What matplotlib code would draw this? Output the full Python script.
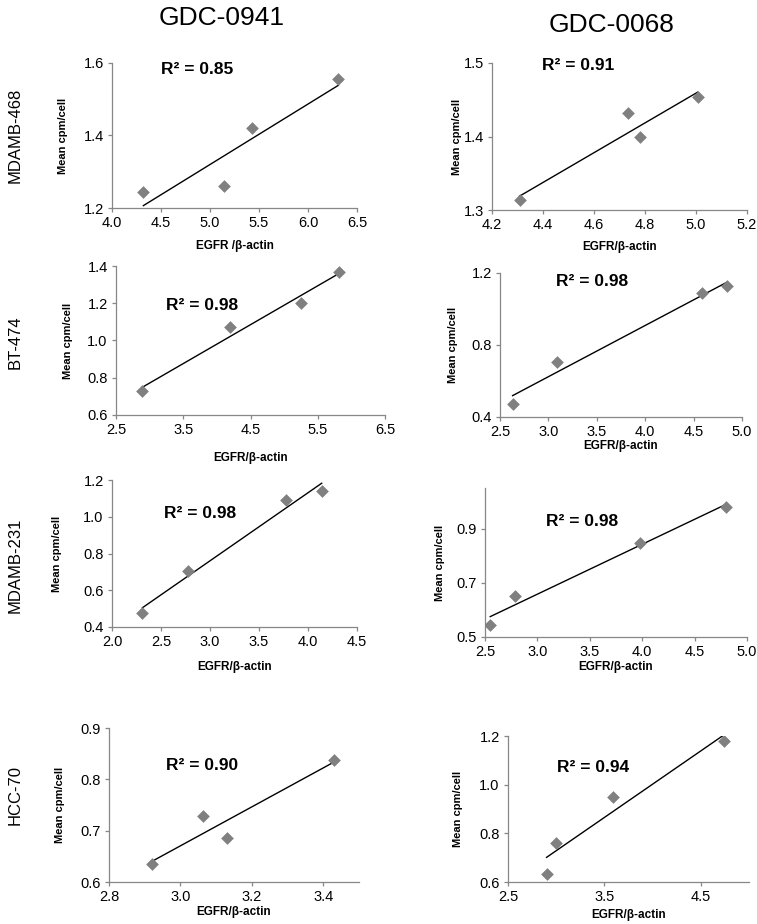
import numpy as np
import matplotlib.pyplot as plt
from matplotlib import font_manager

# EGFR/beta-actin gegen mean cpm/cell, je zelllinie (zeilen) und inhibitor (spalten)

drugs = ["GDC-0941", "GDC-0068"]
cell_lines = ["MDAMB-468", "BT-474", "MDAMB-231", "HCC-70"]

# GDC-0941
x_468_0941 = [4.32, 5.14, 5.43, 6.31]
y_468_0941 = [1.243, 1.260, 1.420, 1.557]
x_474_0941 = [2.89, 4.19, 5.25, 5.81]
y_474_0941 = [0.729, 1.070, 1.200, 1.370]
x_231_0941 = [2.31, 2.78, 3.78, 4.14]
y_231_0941 = [0.476, 0.706, 1.092, 1.141]
x_hcc_0941 = [2.92, 3.064, 3.129, 3.43]
y_hcc_0941 = [0.636, 0.728, 0.686, 0.838]

# GDC-0068
x_468_0068 = [4.308, 4.733, 4.782, 5.007]
y_468_0068 = [1.313, 1.432, 1.400, 1.454]
x_474_0068 = [2.63, 3.09, 4.59, 4.85]
y_474_0068 = [0.474, 0.704, 1.089, 1.128]
x_231_0068 = [2.55, 2.79, 3.98, 4.80]
y_231_0068 = [0.544, 0.651, 0.847, 0.981]
x_hcc_0068 = [2.90, 3.00, 3.59, 4.74]
y_hcc_0068 = [0.632, 0.762, 0.950, 1.180]

r2_0941 = ["0.85", "0.98", "0.98", "0.90"]
r2_0068 = ["0.91", "0.98", "0.98", "0.94"]

xlabels_0941 = ["EGFR /β-actin", "EGFR/β-actin", "EGFR/β-actin", "EGFR/β-actin"]
xlabels_0068 = ["EGFR/β-actin", "EGFR/β-actin", "EGFR/β-actin", "EGFR/β-actin"]

# achsen: xlim, xticks, ylim, yticks
xticks_0941 = [[4.0, 4.5, 5.0, 5.5, 6.0, 6.5], [2.5, 3.5, 4.5, 5.5, 6.5],
               [2.0, 2.5, 3.0, 3.5, 4.0, 4.5], [2.8, 3.0, 3.2, 3.4]]
xlim_0941 = [(4.0, 6.5), (2.5, 6.5), (2.0, 4.5), (2.8, 3.5)]
yticks_0941 = [[1.2, 1.4, 1.6], [0.6, 0.8, 1.0, 1.2, 1.4],
               [0.4, 0.6, 0.8, 1.0, 1.2], [0.6, 0.7, 0.8, 0.9]]
ylim_0941 = [(1.2, 1.6), (0.6, 1.4), (0.4, 1.2), (0.6, 0.9)]

xticks_0068 = [[4.2, 4.4, 4.6, 4.8, 5.0, 5.2], [2.5, 3.0, 3.5, 4.0, 4.5, 5.0],
               [2.5, 3.0, 3.5, 4.0, 4.5, 5.0], [2.5, 3.5, 4.5]]
xlim_0068 = [(4.2, 5.2), (2.5, 5.0), (2.5, 5.0), (2.5, 5.0)]
yticks_0068 = [[1.3, 1.4, 1.5], [0.4, 0.8, 1.2], [0.5, 0.7, 0.9], [0.6, 0.8, 1.0, 1.2]]
ylim_0068 = [(1.3, 1.5), (0.4, 1.2), (0.5, 1.05), (0.6, 1.2)]

# layout in pixeln: links, oben, rechts, unten
W, H = 757, 924
boxes_0941 = [(112, 63, 357, 208), (116, 266, 385, 415), (112, 480, 357, 627), (109, 728, 359, 882)]
boxes_0068 = [(492, 63, 747, 210), (500, 273, 742, 417), (485, 488, 747, 637), (508, 736, 749, 882)]
r2_pos_0941 = [(197, 70), (202, 305), (200, 513), (202, 765)]
r2_pos_0068 = [(578, 65), (592, 282), (582, 522), (593, 767)]
ylab_off_0941 = [44, 43, 50, 44]
ylab_off_0068 = [30, 42, 40, 45]
xlab_y_0941 = [240, 452, 661, 906]
xlab_y_0068 = [241, 440, 661, 909]

narrow = "Liberation Sans Narrow"
names = set(f.name for f in font_manager.fontManager.ttflist)
if narrow in names:
    head_font, head_size, row_size = narrow, 23, 14
else:
    head_font, head_size, row_size = "Liberation Sans", 19, 12

plt.rcParams['font.family'] = ['Liberation Sans', 'DejaVu Sans']

fig = plt.figure(figsize=(W / 100, H / 100), dpi=100)

spine_grey = '#878787'


def panel(box, x, y, xlim, xticks, ylim, yticks, r2, r2_pos, ylab_off, xlabel, xlab_y):
    l, t, r, b = box
    ax = fig.add_axes([l / W, 1 - b / H, (r - l) / W, (b - t) / H])
    ax.scatter(x, y, marker='D', s=42, color='#808080', zorder=3, linewidths=0)
    k, d = np.polyfit(x, y, 1)
    xs = np.array([min(x), max(x)])
    ax.plot(xs, k * xs + d, color='black', lw=1.0, zorder=2)
    ax.set_xlim(xlim)
    ax.set_ylim(ylim)
    ax.set_xticks(xticks)
    ax.set_yticks(yticks)
    ax.set_xticklabels(["%.1f" % v for v in xticks])
    ax.set_yticklabels(["%.1f" % v for v in yticks])
    ax.spines['top'].set_visible(False)
    ax.spines['right'].set_visible(False)
    for s in ['left', 'bottom']:
        ax.spines[s].set_color(spine_grey)
        ax.spines[s].set_linewidth(0.9)
    ax.tick_params(direction='out', length=3, width=0.9, color=spine_grey,
                   labelsize=10.5, pad=3)
    ax.patch.set_alpha(0)
    ax.set_ylabel("Mean cpm/cell", fontsize=8, fontweight='bold')
    ax.yaxis.set_label_coords(-ylab_off / (r - l), 0.5)
    ax.set_xlabel(xlabel, fontsize=8.5, fontweight='bold')
    ax.xaxis.set_label_coords(0.5, -(xlab_y - b) / (b - t))
    fig.text(r2_pos[0] / W, 1 - r2_pos[1] / H, "R² = " + r2, fontsize=12.5,
             fontweight='bold', ha='center', va='center')
    return ax


for i in range(4):
    panel(boxes_0941[i], [x_468_0941, x_474_0941, x_231_0941, x_hcc_0941][i],
          [y_468_0941, y_474_0941, y_231_0941, y_hcc_0941][i],
          xlim_0941[i], xticks_0941[i], ylim_0941[i], yticks_0941[i],
          r2_0941[i], r2_pos_0941[i], ylab_off_0941[i], xlabels_0941[i], xlab_y_0941[i])
    panel(boxes_0068[i], [x_468_0068, x_474_0068, x_231_0068, x_hcc_0068][i],
          [y_468_0068, y_474_0068, y_231_0068, y_hcc_0068][i],
          xlim_0068[i], xticks_0068[i], ylim_0068[i], yticks_0068[i],
          r2_0068[i], r2_pos_0068[i], ylab_off_0068[i], xlabels_0068[i], xlab_y_0068[i])

# spaltentitel und zeilenbeschriftung
fig.text(222 / W, 1 - 18 / H, drugs[0], family=[head_font, 'DejaVu Sans'],
         fontsize=head_size, ha='center', va='center')
fig.text(612 / W, 1 - 25 / H, drugs[1], family=[head_font, 'DejaVu Sans'],
         fontsize=head_size, ha='center', va='center')
for name, yc in zip(cell_lines, [135, 342, 565, 795]):
    fig.text(15 / W, 1 - yc / H, name, family=[head_font, 'DejaVu Sans'],
             fontsize=row_size, rotation=90, ha='center', va='center')

fig.savefig("out.png", dpi=100, facecolor='white')
